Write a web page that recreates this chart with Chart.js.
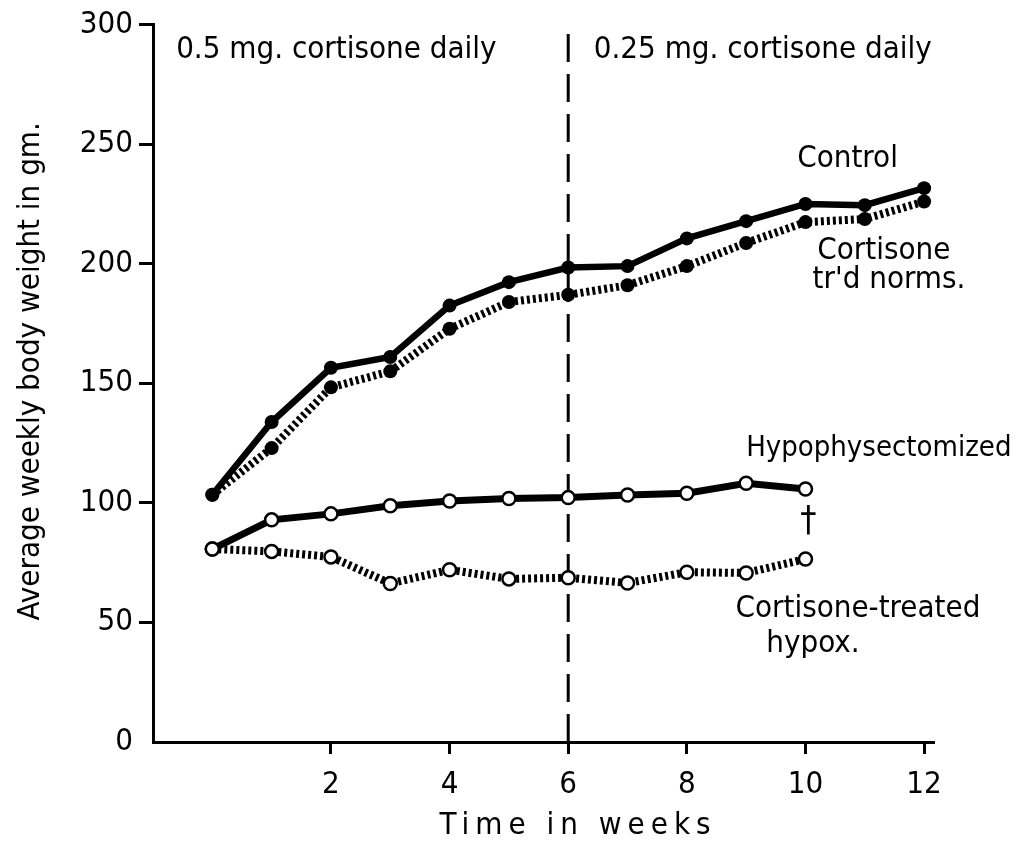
<!DOCTYPE html>
<html>
<head>
<meta charset="utf-8">
<script src="https://cdn.jsdelivr.net/npm/chart.js@4/dist/chart.umd.min.js"></script>
<style>
  html, body { margin: 0; padding: 0; background: #fff; }
  #wrap { width: 1030px; height: 846px; }
</style>
</head>
<body>
<div id="wrap"><canvas id="c" width="1030" height="846"></canvas></div>
<script>
// ---- data ----
const weeksNorm = [0, 1, 2, 3, 4, 5, 6, 7, 8, 9, 10, 11, 12];
const weeksHypox = [0, 1, 2, 3, 4, 5, 6, 7, 8, 9, 10];
const controlVals = [103.4, 133.8, 156.5, 161, 182.5, 192.3, 198.4, 199, 210.6, 217.8, 225, 224.5, 231.6];
const cortNormVals = [103.4, 122.9, 148.3, 155, 172.8, 184, 187, 191, 199, 208.7, 217.4, 218.7, 226];
const hypoxVals = [80.7, 92.9, 95.4, 98.8, 100.8, 101.8, 102.2, 103.3, 104, 108.2, 105.8];
const cortHypoxVals = [80.7, 79.7, 77.4, 66.3, 72, 68.2, 68.7, 66.5, 71, 70.7, 76.5];
const doseChangeWeek = 6;
const xTickValues = [2, 4, 6, 8, 10, 12];
const yTickStep = 50;
const yMin = 0, yMax = 300;
const xTitle = 'Time in weeks';
const yTitle = 'Average weekly body weight in gm.';
const annotationTexts = [
  { text: '0.5 mg. cortisone daily', x: -0.61, y: 286.2 },
  { text: '0.25 mg. cortisone daily', x: 6.43, y: 286.2 },
  { text: 'Control', x: 9.86, y: 240.3 },
  { text: 'Cortisone', x: 10.2, y: 201.9 },
  { text: "tr'd norms.", x: 10.12, y: 189.8 },
  { text: 'Hypophysectomized', x: 9.0, y: 119.7, size: 29 },
  { text: '\u2020', x: 10.05, y: 88.4, center: true, size: 36 },
  { text: 'Cortisone-treated', x: 8.82, y: 52.1 },
  { text: 'hypox.', x: 9.34, y: 37.5 }
];

const FONT_C = '"DejaVu Sans Condensed", "DejaVu Sans", sans-serif';
const pts = (xs, ys) => ys.map((v, i) => ({ x: xs[i], y: v }));

const annotationPlugin = {
  id: 'annotations',
  beforeDraw(chart) {
    if (!chart._titleWrapped) {
      chart._titleWrapped = true;
      const xs = chart.scales.x, ys = chart.scales.y;
      const ox = xs.drawTitle.bind(xs);
      xs.drawTitle = function () {
        const ctx = this.ctx; ctx.save();
        ctx.letterSpacing = '6px'; ctx.translate(35, 0);
        ox(); ctx.restore();
      };
      const oy = ys.drawTitle.bind(ys);
      ys.drawTitle = function () {
        const ctx = this.ctx; ctx.save();
        ctx.translate(0, -12);
        oy(); ctx.restore();
      };
    }
  },
  afterDatasetsDraw(chart) {
    const ctx = chart.ctx;
    const xs = chart.scales.x, ys = chart.scales.y;
    ctx.save();
    ctx.fillStyle = '#000';
    ctx.textBaseline = 'alphabetic';
    annotationTexts.forEach(a => {
      ctx.font = (a.size || 31) + 'px ' + FONT_C;
      ctx.textAlign = a.center ? 'center' : 'left';
      ctx.fillText(a.text, xs.getPixelForValue(a.x), ys.getPixelForValue(a.y));
    });
    ctx.restore();
  }
};

new Chart(document.getElementById('c'), {
  type: 'line',
  data: {
    datasets: [
      {
        label: 'Control', data: pts(weeksNorm, controlVals),
        borderColor: '#000', backgroundColor: '#000', borderWidth: 6.5,
        pointRadius: 7, pointBackgroundColor: '#000', pointBorderWidth: 0, tension: 0
      },
      {
        label: "Cortisone tr'd norms.", data: pts(weeksNorm, cortNormVals),
        borderColor: '#000', backgroundColor: '#000', borderWidth: 8, borderDash: [3, 3],
        pointRadius: 7, pointBackgroundColor: '#000', pointBorderWidth: 0, tension: 0
      },
      {
        label: 'Hypophysectomized', data: pts(weeksHypox, hypoxVals),
        borderColor: '#000', borderWidth: 7,
        pointRadius: 6.5, pointBackgroundColor: '#fff', pointBorderColor: '#000', pointBorderWidth: 2.5, tension: 0
      },
      {
        label: 'Cortisone-treated hypox.', data: pts(weeksHypox, cortHypoxVals),
        borderColor: '#000', borderWidth: 8, borderDash: [3, 3],
        pointRadius: 6.5, pointBackgroundColor: '#fff', pointBorderColor: '#000', pointBorderWidth: 2.5, tension: 0
      },
      {
        label: 'dose change', data: [{ x: doseChangeWeek, y: yMin }, { x: doseChangeWeek, y: yMax }],
        borderColor: '#000', borderWidth: 3, borderDash: [28, 12], pointRadius: 0, tension: 0
      }
    ]
  },
  plugins: [annotationPlugin],
  options: {
    responsive: false,
    animation: false,
    layout: { padding: { left: 0, right: 97, top: 24, bottom: 0 } },
    plugins: { legend: { display: false }, tooltip: { enabled: false } },
    elements: { line: { borderCapStyle: 'butt' } },
    scales: {
      x: {
        type: 'linear', min: -1, max: 12.15,
        afterBuildTicks: s => { s.ticks = xTickValues.map(v => ({ value: v })); },
        afterFit: s => { s.height = 104; },
        ticks: { color: '#000', font: { family: FONT_C, size: 31 }, padding: 12, maxRotation: 0, autoSkip: false },
        grid: { drawOnChartArea: false, drawTicks: true, tickLength: 12, color: '#000', lineWidth: 3 },
        border: { display: true, color: '#000', width: 3 },
        title: { display: true, text: xTitle, color: '#000', font: { family: FONT_C, size: 31 }, padding: { top: 0, bottom: 1 } }
      },
      y: {
        min: yMin, max: yMax,
        afterFit: s => { s.width = 153; },
        ticks: { stepSize: yTickStep, color: '#000', font: { family: FONT_C, size: 31 }, padding: 6 },
        grid: {
          drawOnChartArea: false, drawTicks: true, tickLength: 14, lineWidth: 3,
          color: c => (c.tick && c.tick.value === 0) ? 'rgba(0,0,0,0)' : '#000'
        },
        border: { display: true, color: '#000', width: 3 },
        title: { display: true, text: yTitle, color: '#000', font: { family: FONT_C, size: 31 }, padding: { top: 12, bottom: 0 } }
      }
    }
  }
});
</script>
</body>
</html>
